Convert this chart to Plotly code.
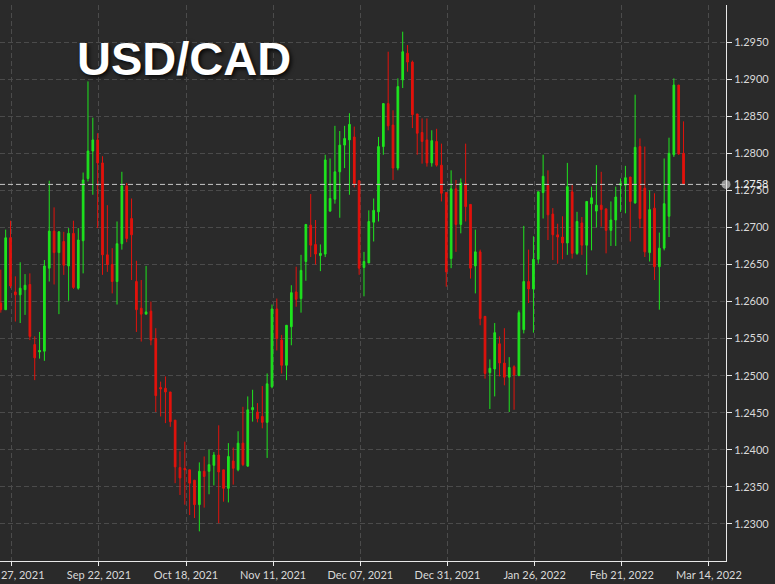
import plotly.graph_objects as go

# ---- data ----
bar_index = list(range(-2, 140))

open_ = [1.2598, 1.2589, 1.2686, 1.2613, 1.2609, 1.2616, 1.2623, 1.2542, 1.2532, 1.2533,
         1.2645, 1.2695, 1.2666, 1.2681, 1.2648, 1.2692, 1.2618, 1.2682, 1.2766, 1.2803,
         1.2818, 1.2787, 1.2663, 1.2650, 1.2627, 1.2678, 1.2756, 1.2712, 1.2627, 1.2591,
         1.2583, 1.2587, 1.2550, 1.2484, 1.2483, 1.2478, 1.2440, 1.2376, 1.2375, 1.2373,
         1.2359, 1.2326, 1.2371, 1.2371, 1.2379, 1.2393, 1.2373, 1.2348, 1.2385, 1.2373,
         1.2409, 1.2378, 1.2454, 1.2451, 1.2445, 1.2437, 1.2485, 1.2590, 1.2548, 1.2514,
         1.2566, 1.2613, 1.2604, 1.2654, 1.2703, 1.2677, 1.2662, 1.2664, 1.2722, 1.2738,
         1.2775, 1.2811, 1.2818, 1.2822, 1.2763, 1.2646, 1.2652, 1.2707, 1.2721, 1.2809,
         1.2867, 1.2838, 1.2780, 1.2899, 1.2935, 1.2923, 1.2853, 1.2828, 1.2818, 1.2787,
         1.2816, 1.2784, 1.2747, 1.2658, 1.2752, 1.2704, 1.2759, 1.2731, 1.2648, 1.2667,
         1.2580, 1.2504, 1.2509, 1.2543, 1.2517, 1.2498, 1.2512, 1.2500, 1.2562, 1.2627,
         1.2617, 1.2657, 1.2747, 1.2757, 1.2718, 1.2690, 1.2687, 1.2679, 1.2748, 1.2665,
         1.2706, 1.2676, 1.2732, 1.2722, 1.2730, 1.2725, 1.2696, 1.2710, 1.2757, 1.2757,
         1.2768, 1.2733, 1.2809, 1.2753, 1.2666, 1.2726, 1.2647, 1.2672, 1.2715, 1.2798,
         1.2892, 1.2800]

high = [1.2643, 1.2697, 1.2709, 1.2634, 1.2653, 1.2637, 1.2638, 1.2553, 1.2559, 1.2656,
        1.2763, 1.2727, 1.2695, 1.2694, 1.2699, 1.2709, 1.2699, 1.2774, 1.2897, 1.2848,
        1.2827, 1.2796, 1.2730, 1.2672, 1.2708, 1.2775, 1.2760, 1.2739, 1.2655, 1.2629,
        1.2648, 1.2600, 1.2564, 1.2492, 1.2499, 1.2478, 1.2440, 1.2398, 1.2411, 1.2373,
        1.2359, 1.2383, 1.2391, 1.2400, 1.2397, 1.2433, 1.2373, 1.2409, 1.2403, 1.2425,
        1.2458, 1.2472, 1.2481, 1.2463, 1.2486, 1.2503, 1.2596, 1.2604, 1.2555, 1.2568,
        1.2622, 1.2647, 1.2663, 1.2704, 1.2745, 1.2710, 1.2677, 1.2798, 1.2793, 1.2837,
        1.2830, 1.2837, 1.2854, 1.2836, 1.2763, 1.2667, 1.2723, 1.2739, 1.2822, 1.2867,
        1.2937, 1.2858, 1.2901, 1.2964, 1.2946, 1.2925, 1.2853, 1.2847, 1.2847, 1.2831,
        1.2833, 1.2813, 1.2747, 1.2777, 1.2764, 1.2766, 1.2813, 1.2731, 1.2697, 1.2670,
        1.2580, 1.2522, 1.2571, 1.2553, 1.2564, 1.2525, 1.2514, 1.2588, 1.2702, 1.2670,
        1.2688, 1.2748, 1.2798, 1.2777, 1.2726, 1.2705, 1.2715, 1.2787, 1.2757, 1.2721,
        1.2714, 1.2735, 1.2755, 1.2784, 1.2775, 1.2725, 1.2735, 1.2755, 1.2766, 1.2783,
        1.2768, 1.2879, 1.2820, 1.2809, 1.2750, 1.2746, 1.2693, 1.2793, 1.2821, 1.2901,
        1.2892, 1.2843]

low = [1.2585, 1.2589, 1.2618, 1.2573, 1.2571, 1.2582, 1.2548, 1.2494, 1.2523, 1.2520,
       1.2627, 1.2623, 1.2583, 1.2636, 1.2601, 1.2617, 1.2616, 1.2638, 1.2762, 1.2744,
       1.2699, 1.2636, 1.2640, 1.2611, 1.2596, 1.2670, 1.2680, 1.2629, 1.2559, 1.2546,
       1.2583, 1.2541, 1.2451, 1.2445, 1.2436, 1.2431, 1.2355, 1.2339, 1.2326, 1.2312,
       1.2308, 1.2290, 1.2322, 1.2340, 1.2352, 1.2301, 1.2330, 1.2329, 1.2353, 1.2371,
       1.2378, 1.2377, 1.2438, 1.2437, 1.2429, 1.2389, 1.2483, 1.2534, 1.2503, 1.2494,
       1.2541, 1.2593, 1.2585, 1.2628, 1.2660, 1.2650, 1.2641, 1.2660, 1.2721, 1.2732,
       1.2713, 1.2780, 1.2744, 1.2754, 1.2636, 1.2607, 1.2652, 1.2681, 1.2708, 1.2798,
       1.2831, 1.2764, 1.2777, 1.2888, 1.2910, 1.2834, 1.2798, 1.2786, 1.2782, 1.2782,
       1.2782, 1.2735, 1.2620, 1.2645, 1.2667, 1.2692, 1.2708, 1.2631, 1.2611, 1.2568,
       1.2496, 1.2455, 1.2472, 1.2499, 1.2487, 1.2451, 1.2454, 1.2500, 1.2557, 1.2598,
       1.2558, 1.2651, 1.2712, 1.2683, 1.2656, 1.2651, 1.2657, 1.2663, 1.2658, 1.2663,
       1.2663, 1.2636, 1.2669, 1.2700, 1.2701, 1.2665, 1.2675, 1.2675, 1.2721, 1.2719,
       1.2681, 1.2732, 1.2699, 1.2660, 1.2654, 1.2629, 1.2589, 1.2669, 1.2687, 1.2795,
       1.2798, 1.2758]

close = [1.2589, 1.2686, 1.2621, 1.2609, 1.2618, 1.2622, 1.2553, 1.2524, 1.2534, 1.2648,
         1.2695, 1.2666, 1.2694, 1.2649, 1.2692, 1.2619, 1.2683, 1.2764, 1.2803, 1.2818,
         1.2787, 1.2663, 1.2650, 1.2627, 1.2678, 1.2756, 1.2685, 1.2690, 1.2589, 1.2583,
         1.2586, 1.2548, 1.2473, 1.2482, 1.2478, 1.2438, 1.2377, 1.2362, 1.2373, 1.2355,
         1.2326, 1.2371, 1.2364, 1.2380, 1.2393, 1.2370, 1.2348, 1.2391, 1.2375, 1.2409,
         1.2380, 1.2454, 1.2457, 1.2442, 1.2437, 1.2489, 1.2590, 1.2550, 1.2514, 1.2568,
         1.2612, 1.2603, 1.2642, 1.2704, 1.2676, 1.2664, 1.2665, 1.2791, 1.2739, 1.2775,
         1.2811, 1.2820, 1.2839, 1.2759, 1.2645, 1.2654, 1.2708, 1.2723, 1.2809, 1.2867,
         1.2837, 1.2780, 1.2890, 1.2937, 1.2923, 1.2852, 1.2827, 1.2816, 1.2787, 1.2817,
         1.2784, 1.2746, 1.2640, 1.2752, 1.2704, 1.2760, 1.2728, 1.2645, 1.2667, 1.2577,
         1.2503, 1.2510, 1.2558, 1.2517, 1.2498, 1.2511, 1.2501, 1.2585, 1.2627, 1.2617,
         1.2657, 1.2748, 1.2769, 1.2717, 1.2690, 1.2687, 1.2679, 1.2755, 1.2665, 1.2708,
         1.2676, 1.2735, 1.2740, 1.2730, 1.2724, 1.2696, 1.2710, 1.2741, 1.2759, 1.2767,
         1.2735, 1.2808, 1.2712, 1.2667, 1.2724, 1.2647, 1.2672, 1.2732, 1.2800, 1.2892,
         1.2799, 1.2758]

tick_index = [0, 18, 36, 54, 72, 90, 108, 126, 144]
tick_labels = ["Aug 27, 2021", "Sep 22, 2021", "Oct 18, 2021", "Nov 11, 2021",
               "Dec 07, 2021", "Dec 31, 2021", "Jan 26, 2022", "Feb 21, 2022",
               "Mar 14, 2022"]
price_ticks = [1.2300, 1.2350, 1.2400, 1.2450, 1.2500, 1.2550, 1.2600, 1.2650,
               1.2700, 1.2750, 1.2800, 1.2850, 1.2900, 1.2950]
title_text = "USD/CAD"

# ---- style ----
BG = "#2a2a2a"
GRID = "#4b4b4b"
AXIS = "#e8e8e8"
LABEL = "#d9d9d9"
UP = "#1ee51e"
DOWN = "#e3120c"
X_RANGE = [-2.17, 147.77]
Y_RANGE = [1.2250, 1.3000]

fig = go.Figure()
fig.add_trace(go.Candlestick(
    x=bar_index, open=open_, high=high, low=low, close=close,
    increasing=dict(line=dict(color=UP, width=1), fillcolor=UP),
    decreasing=dict(line=dict(color=DOWN, width=1), fillcolor=DOWN),
    whiskerwidth=0, hoverinfo="skip",
))

last = close[-1]
fig.add_shape(type="line", xref="paper", x0=0, x1=1, yref="y", y0=last, y1=last,
              line=dict(color="#c8c8c8", width=1, dash="5px,3px"), layer="above")
fig.add_trace(go.Scatter(x=[X_RANGE[1]], y=[last], mode="markers",
                         marker=dict(size=9, color="#9a9a9a"), cliponaxis=False,
                         hoverinfo="skip"))
fig.add_annotation(xref="paper", x=1, xanchor="left", xshift=6, yref="y", y=last,
                   yanchor="middle", yshift=1, text=f"{last:.4f}", showarrow=False,
                   font=dict(family="Lato", size=11, color="#eeeeee"))

fig.add_annotation(xref="paper", x=76 / 725.7, xanchor="left", yref="paper",
                   y=(561 - 59) / 556, yanchor="middle", text=f"<b>{title_text}</b>",
                   showarrow=False, borderpad=0,
                   font=dict(family="Liberation Sans, Arial", size=47, color="#ffffff",
                             shadow="2px 2px 4px rgba(0,0,0,0.85)"))

fig.update_layout(
    width=775, height=584,
    margin=dict(l=0, r=49, t=5, b=23, autoexpand=False),
    paper_bgcolor=BG, plot_bgcolor=BG,
    showlegend=False, boxgap=0.5,
    xaxis=dict(range=X_RANGE, autorange=False, tickmode="array", automargin=False,
               tickvals=[v + 0.25 for v in tick_index], ticktext=tick_labels,
               showgrid=True, gridcolor=GRID, gridwidth=1, griddash="5px,3px",
               showline=True, linecolor=AXIS, linewidth=1,
               ticks="outside", ticklen=4, tickcolor=AXIS, tickwidth=1,
               tickfont=dict(family="Lato", size=11, color=LABEL),
               zeroline=False, rangeslider=dict(visible=False),
               ticklabeloverflow="allow"),
    yaxis=dict(range=Y_RANGE, autorange=False, side="right", tickmode="array",
               automargin=False,
               tickvals=price_ticks, tickformat=".4f",
               showgrid=True, gridcolor=GRID, gridwidth=1, griddash="5px,3px",
               showline=True, linecolor=AXIS, linewidth=1,
               ticks="outside", ticklen=5, tickcolor=AXIS, tickwidth=1,
               tickfont=dict(family="Lato", size=11, color=LABEL),
               zeroline=False),
)

fig.write_html("out.html",
               config={"displayModeBar": False},
               post_script="document.body.style.margin='0';"
                           "document.body.style.background='#2a2a2a';")
